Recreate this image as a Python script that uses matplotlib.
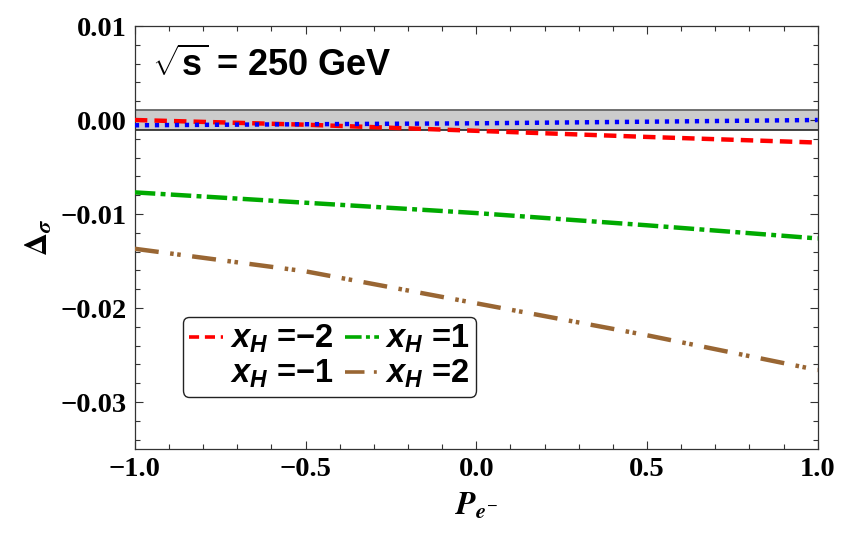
import matplotlib
matplotlib.use("Agg")
import matplotlib.pyplot as plt
from matplotlib.lines import Line2D
from matplotlib.ticker import MultipleLocator, FuncFormatter

# Electron beam polarisation and cross-section deviation for each x_H
pol = [-1.0, -0.5, 0.0, 0.5, 1.0]
delta_xh_m2 = [0.0000, -0.0005, -0.00115, -0.0018, -0.0024]
delta_xh_m1 = [-0.00056, -0.00045, -0.00035, -0.00018, 0.0000]
delta_xh_p1 = [-0.0077, -0.0088, -0.0099, -0.0112, -0.0126]
delta_xh_p2 = [-0.0137, -0.0161, -0.0195, -0.0229, -0.0266]
band_low, band_high = -0.0011, 0.0011

plt.rcParams["mathtext.fontset"] = "custom"
plt.rcParams["mathtext.rm"] = "Liberation Sans:bold"
plt.rcParams["mathtext.it"] = "Liberation Sans:bold:italic"
plt.rcParams["mathtext.bf"] = "Liberation Sans:bold"

fig = plt.figure(figsize=(8.43, 5.33), dpi=100)
ax = fig.add_axes([0.160, 0.1576, 0.810, 0.7936])

# uncertainty band around zero
ax.axhspan(band_low, band_high, facecolor="#cccccc", edgecolor="none", zorder=1)
ax.axhline(band_high, color="#666666", lw=1.3, zorder=1.5)
ax.axhline(band_low, color="#111111", lw=1.1, zorder=1.5)

lw = 3.2
l_m2, = ax.plot(pol, delta_xh_m2, color="#ff0000", lw=lw,
                linestyle=(0, (2.8, 1.6)), dash_capstyle="butt", zorder=3)
l_m1, = ax.plot(pol, delta_xh_m1, color="#0000ff", lw=lw,
                linestyle=(0, (0.95, 1.3)), dash_capstyle="butt", zorder=4)
l_p1, = ax.plot(pol, delta_xh_p1, color="#00aa00", lw=lw,
                linestyle=(0, (4.6, 1.2, 1.1, 1.2)), dash_capstyle="butt", zorder=3)
l_p2, = ax.plot(pol, delta_xh_p2, color="#996633", lw=lw,
                linestyle=(0, (5.4, 2.6, 0.8, 0.8, 0.8, 2.6)), dash_capstyle="butt", zorder=3)


def fmt(nd):
    return FuncFormatter(lambda v, p: f"{v:.{nd}f}".replace("-", "\u2212"))


ax.set_xlim(-1.0, 1.0)
ax.set_ylim(-0.035, 0.01)
ax.xaxis.set_major_locator(MultipleLocator(0.5))
ax.xaxis.set_minor_locator(MultipleLocator(0.1))
ax.yaxis.set_major_locator(MultipleLocator(0.01))
ax.yaxis.set_minor_locator(MultipleLocator(0.002))
ax.xaxis.set_major_formatter(fmt(1))
ax.yaxis.set_major_formatter(fmt(2))
ax.tick_params(which="both", direction="in", top=True, right=True,
               width=0.8, color="#333333")
ax.tick_params(which="major", length=6, pad=6)
ax.tick_params(which="minor", length=3.5)
for lab in ax.get_xticklabels() + ax.get_yticklabels():
    lab.set_fontfamily("Liberation Serif")
    lab.set_fontweight("bold")
    lab.set_fontsize(20.5)
for sp in ax.spines.values():
    sp.set_color("#333333")
    sp.set_linewidth(0.9)

ax.set_ylabel(r"$\mathbf{\Delta}_{\boldsymbol{\sigma}}$", fontsize=23,
              math_fontfamily="stix", labelpad=4)
ax.set_xlabel(r"$\boldsymbol{P}_{\boldsymbol{e}^{-}}$", fontsize=23,
              math_fontfamily="stix", labelpad=6)

ax.text(0.025, 0.905, r"$\sqrt{\mathrm{s}}$ = 250 GeV", transform=ax.transAxes,
        fontsize=26, fontweight="bold", family="Liberation Sans",
        ha="left", va="center")

blank = Line2D([], [], color="none", lw=lw)
handles = [l_m2, blank, l_p1, l_p2]
labels = [r"$x_{H}$ =−2", r"$x_{H}$ =−1", r"$x_{H}$ =1", r"$x_{H}$ =2"]
leg = ax.legend(handles, labels, ncol=2, loc="lower left",
                bbox_to_anchor=(0.07, 0.123), frameon=True, fancybox=True,
                prop={"family": "Liberation Sans", "weight": "bold", "size": 23.5},
                handlelength=1.05, handletextpad=0.2, columnspacing=0.35,
                labelspacing=0.08, borderpad=0.2, borderaxespad=0.0)
leg.get_frame().set_edgecolor("#222222")
leg.get_frame().set_linewidth(1.0)
leg.get_frame().set_alpha(1.0)
for h in leg.get_lines():
    h.set_linewidth(2.6)

fig.savefig("out.png", dpi=100)
